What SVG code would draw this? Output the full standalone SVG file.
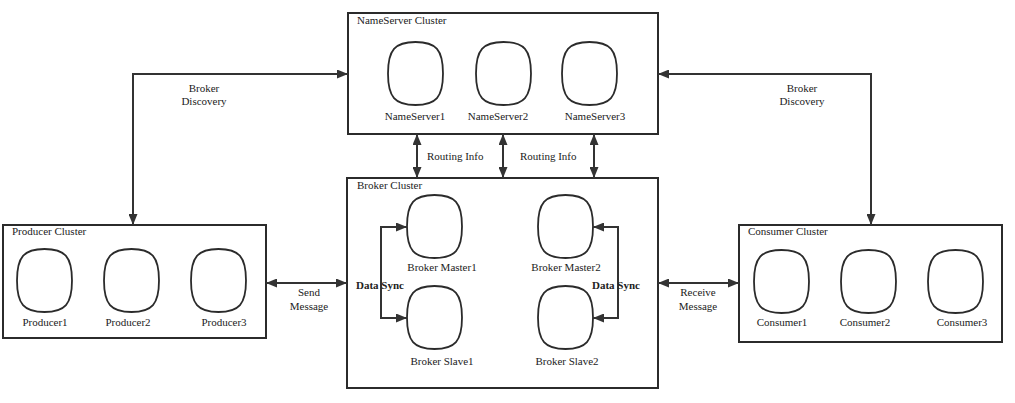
<svg xmlns="http://www.w3.org/2000/svg" xmlns:xlink="http://www.w3.org/1999/xlink" width="1015" height="403" viewBox="0 0 1015 403">
<style>
.cluster{fill:#fff;stroke:#2b2b2b;stroke-width:2}
.node{fill:#fff;stroke:#2b2b2b;stroke-width:1.8}
.t{font-family:"Liberation Serif","Times New Roman",serif;font-size:11px;fill:#222}
.c{text-anchor:middle}
.b{font-weight:bold}
.conn{fill:none;stroke:#333;stroke-width:2}
</style>
<defs>
<marker id="ah" markerUnits="userSpaceOnUse" markerWidth="11" markerHeight="9" refX="11" refY="4.5" orient="auto-start-reverse" viewBox="0 0 11 9">
<path d="M0,0 L11,4.5 L0,9 z" fill="#333"/>
</marker>
<path id="blob" class="node" d="M27.5,0 C48.1,0 55,7.9 55,31.5 C55,55.1 48.1,63 27.5,63 C6.9,63 0,55.1 0,31.5 C0,7.9 6.9,0 27.5,0 Z"/>
</defs>
<rect width="1015" height="403" fill="#fff"/>
<g id="nameserver-cluster">
<rect class="cluster" x="348" y="13" width="310" height="121"/>
<text class="t" x="357" y="24">NameServer Cluster</text>
</g>
<g id="nameserver1"><use href="#blob" xlink:href="#blob" x="388" y="42"/><text class="t c" x="415" y="120">NameServer1</text></g>
<g id="nameserver2"><use href="#blob" xlink:href="#blob" x="476" y="42"/><text class="t c" x="498" y="120">NameServer2</text></g>
<g id="nameserver3"><use href="#blob" xlink:href="#blob" x="562" y="42"/><text class="t c" x="595" y="120">NameServer3</text></g>

<g id="broker-cluster">
<rect class="cluster" x="347" y="178" width="311" height="210"/>
<text class="t" x="357" y="189">Broker Cluster</text>
</g>
<g id="broker-master1"><use href="#blob" xlink:href="#blob" x="407" y="195"/><text class="t c" x="442" y="271">Broker Master1</text></g>
<g id="broker-master2"><use href="#blob" xlink:href="#blob" x="538" y="195"/><text class="t c" x="566" y="271">Broker Master2</text></g>
<g id="broker-slave1"><use href="#blob" xlink:href="#blob" x="407" y="286"/><text class="t c" x="442" y="365">Broker Slave1</text></g>
<g id="broker-slave2"><use href="#blob" xlink:href="#blob" x="538" y="286"/><text class="t c" x="567" y="365">Broker Slave2</text></g>

<g id="producer-cluster">
<rect class="cluster" x="3" y="225" width="263" height="113"/>
<text class="t" x="12" y="235">Producer Cluster</text>
</g>
<g id="producer1"><use href="#blob" xlink:href="#blob" x="17" y="249"/><text class="t c" x="45" y="326">Producer1</text></g>
<g id="producer2"><use href="#blob" xlink:href="#blob" x="104" y="249"/><text class="t c" x="128" y="326">Producer2</text></g>
<g id="producer3"><use href="#blob" xlink:href="#blob" x="191" y="249"/><text class="t c" x="224" y="326">Producer3</text></g>

<g id="consumer-cluster">
<rect class="cluster" x="739" y="225" width="263" height="117"/>
<text class="t" x="748" y="235">Consumer Cluster</text>
</g>
<g id="consumer1"><use href="#blob" xlink:href="#blob" x="754" y="250"/><text class="t c" x="782" y="326">Consumer1</text></g>
<g id="consumer2"><use href="#blob" xlink:href="#blob" x="841" y="250"/><text class="t c" x="865" y="326">Consumer2</text></g>
<g id="consumer3"><use href="#blob" xlink:href="#blob" x="928" y="250"/><text class="t c" x="962" y="326">Consumer3</text></g>

<g id="connectors">
<path class="conn" d="M348,74 L133,74 L133,225" marker-start="url(#ah)" marker-end="url(#ah)"/>
<path class="conn" d="M658,74 L871,74 L871,225" marker-start="url(#ah)" marker-end="url(#ah)"/>
<path class="conn" d="M417,134 L417,178" marker-start="url(#ah)" marker-end="url(#ah)"/>
<path class="conn" d="M503,134 L503,178" marker-start="url(#ah)" marker-end="url(#ah)"/>
<path class="conn" d="M594,134 L594,178" marker-start="url(#ah)" marker-end="url(#ah)"/>
<path class="conn" d="M266,283 L347,283" marker-start="url(#ah)" marker-end="url(#ah)"/>
<path class="conn" d="M658,283 L739,283" marker-start="url(#ah)" marker-end="url(#ah)"/>
<path class="conn" d="M407,227 L381,227 L381,318 L407,318" marker-start="url(#ah)" marker-end="url(#ah)"/>
<path class="conn" d="M593,227 L618,227 L618,318 L593,318" marker-start="url(#ah)" marker-end="url(#ah)"/>
<text class="t c" x="204" y="92">Broker</text>
<text class="t c" x="204" y="105">Discovery</text>
<text class="t c" x="802" y="92">Broker</text>
<text class="t c" x="802" y="105">Discovery</text>
<text class="t" x="427" y="160">Routing Info</text>
<text class="t" x="520" y="160">Routing Info</text>
<text class="t c" x="309" y="296">Send</text>
<text class="t c" x="309" y="310">Message</text>
<text class="t c" x="698" y="296">Receive</text>
<text class="t c" x="698" y="310">Message</text>
<text class="t b" x="356" y="289">Data Sync</text>
<text class="t b" x="592" y="289">Data Sync</text>
</g>
</svg>
